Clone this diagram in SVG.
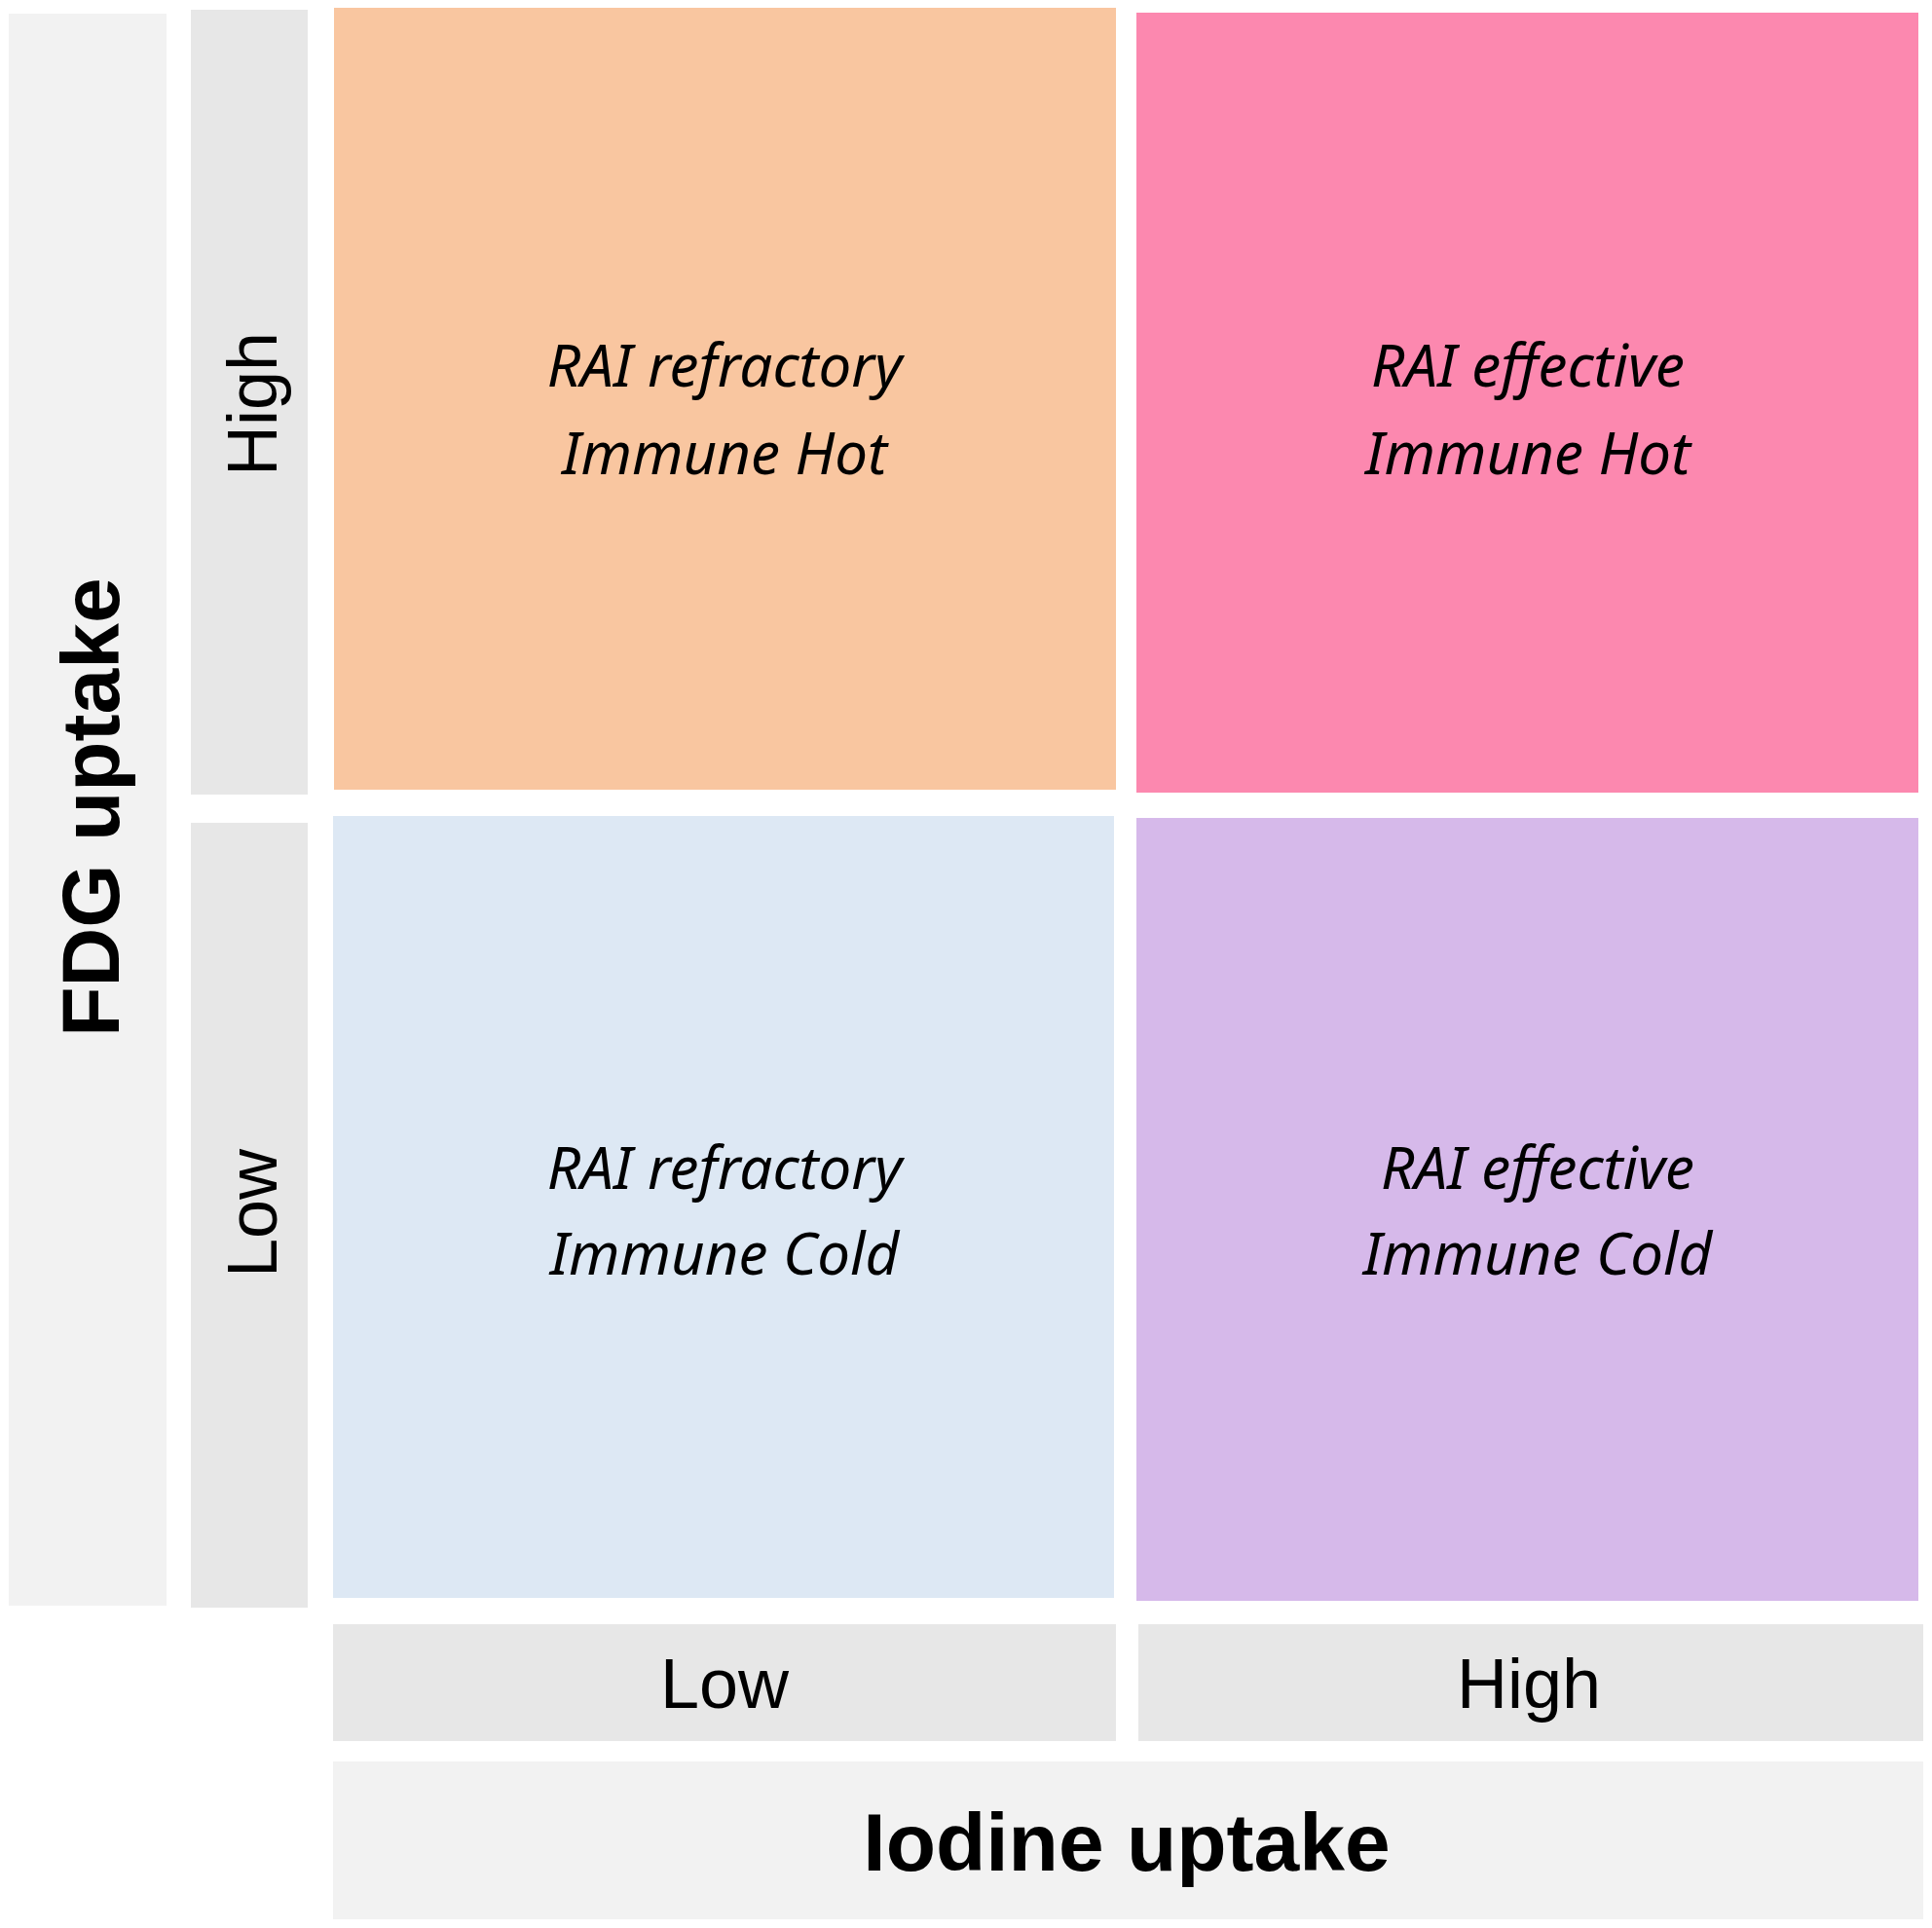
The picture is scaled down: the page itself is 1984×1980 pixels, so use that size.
<svg xmlns="http://www.w3.org/2000/svg" width="1984" height="1980" viewBox="0 0 1984 1980">
<style>
.q{font-family:"Noto Sans","Open Sans",sans-serif;font-style:italic;font-size:60px;fill:#000;text-anchor:middle}
.l{font-family:"Liberation Sans",Arial,sans-serif;font-size:72px;fill:#000;text-anchor:middle}
.b{font-family:"Liberation Sans",Arial,sans-serif;font-weight:bold;font-size:84px;fill:#000;text-anchor:middle}
</style>
<rect width="1984" height="1980" fill="#fff"/>
<g id="fdg-axis"><rect x="9" y="14" width="162" height="1635" fill="#F2F2F2"/><text class="b" transform="translate(122,829) rotate(-90)">FDG uptake</text></g>
<g id="fdg-high"><rect x="196" y="10" width="120" height="806" fill="#E7E7E7"/><text class="l" transform="translate(284,415) rotate(-90)">High</text></g>
<g id="fdg-low"><rect x="196" y="845" width="120" height="806" fill="#E7E7E7"/><text class="l" transform="translate(284,1246) rotate(-90)">Low</text></g>
<g id="q-tl"><rect x="343" y="8" width="803" height="803" fill="#F9C6A0"/><text class="q" x="744" y="397">RAI refractory</text><text class="q" x="744" y="487">Immune Hot</text></g>
<g id="q-tr"><rect x="1167" y="13" width="803" height="801" fill="#FC88AF"/><text class="q" x="1569" y="397">RAI effective</text><text class="q" x="1569" y="487">Immune Hot</text></g>
<g id="q-bl"><rect x="342" y="838" width="802" height="803" fill="#DDE8F4"/><text class="q" x="744" y="1221">RAI refractory</text><text class="q" x="744" y="1309">Immune Cold</text></g>
<g id="q-br"><rect x="1167" y="840" width="803" height="804" fill="#D6B9EA"/><text class="q" x="1579" y="1221">RAI effective</text><text class="q" x="1579" y="1309">Immune Cold</text></g>
<g id="iod-low"><rect x="342" y="1668" width="804" height="120" fill="#E7E7E7"/><text class="l" x="744" y="1754">Low</text></g>
<g id="iod-high"><rect x="1169" y="1668" width="806" height="120" fill="#E7E7E7"/><text class="l" x="1570" y="1754">High</text></g>
<g id="iod-axis"><rect x="342" y="1809" width="1633" height="162" fill="#F2F2F2"/><text class="b" x="1157" y="1921">Iodine uptake</text></g>
<g id="connectors"/>
</svg>
